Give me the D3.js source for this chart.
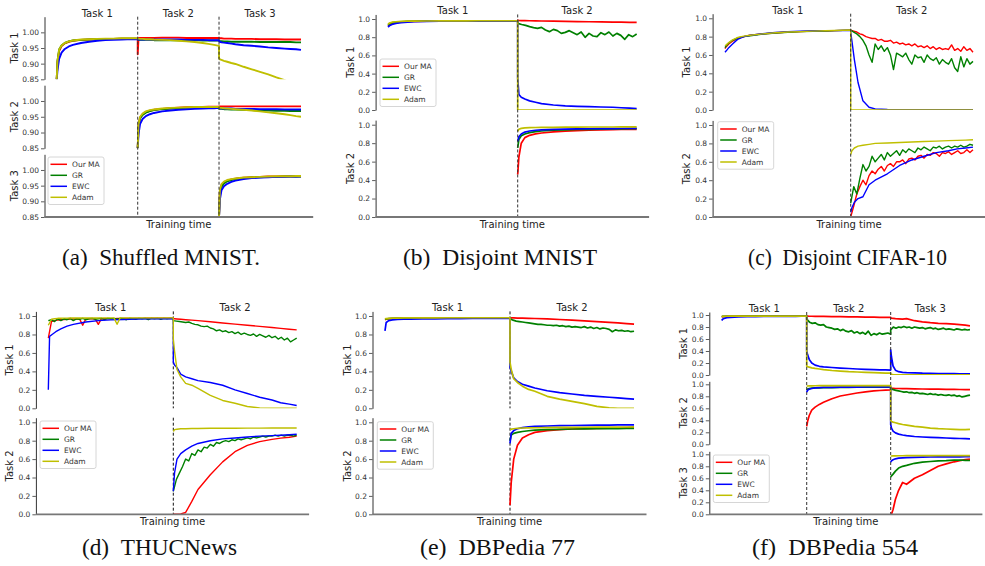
<!DOCTYPE html>
<html lang="en">
<head>
<meta charset="UTF-8">
<title>Accuracy over training time</title>
<script src="https://cdn.jsdelivr.net/npm/d3@7/dist/d3.min.js"></script>
<style>
  body { margin: 0; background: #fff; }
  svg { display: block; }
  .tick text { font-family: "DejaVu Sans", sans-serif; font-size: 7.5px; fill: #333; }
  .lab { font-family: "DejaVu Sans", sans-serif; fill: #222; }
</style>
</head>
<body>
<script>
// sample positions inside a task (fraction of the task), used by 16-value segments
var fracs = [0, .01, .03, .06, .1, .15, .2, .3, .4, .5, .6, .7, .8, .87, .94, 1];

var methods = ["Our MA", "GR", "EWC", "Adam"];
var methodColors = ["#ff0000", "#008000", "#0000ff", "#bfbf00"];
var taskNames = ["Task 1", "Task 2", "Task 3"];
var ticksShuffled = [0.85, 0.90, 0.95, 1.00];
var ticksUnit = [0, 0.2, 0.4, 0.6, 0.8, 1.0];

// ---- (a) Shuffled MNIST: accuracy on task r, one array per task segment
var a1MA = [
  [.85,.905,.94,.956, .965,.97,.973,.976, .977,.978,.979,.979, .98,.98,.98,.98],
  [.93,.982,.982,.982, .982,.982,.982,.983, .983,.983,.982,.982, .982,.982,.982,.982],
  [.982,.981,.981,.98, .98,.98,.979,.979, .979,.978,.978,.978, .977,.977,.977,.977]];
var a1GR = [
  [.85,.91,.945,.958, .966,.971,.974,.976, .977,.978,.979,.979, .98,.98,.98,.98],
  [.977,.976,.976,.976, .976,.976,.975,.975, .975,.975,.975,.975, .974,.974,.974,.974],
  [.973,.972,.972,.971, .971,.97,.97,.97, .97,.969,.969,.969, .969,.969,.968,.968]];
var a1EWC = [
  [.85,.88,.915,.935, .947,.955,.96,.966, .97,.973,.975,.976, .977,.978,.978,.978],
  [.977,.977,.977,.977, .977,.977,.977,.977, .977,.977,.976,.976, .976,.975,.975,.975],
  [.972,.97,.968,.967, .966,.964,.962,.959, .957,.955,.952,.95, .948,.947,.946,.944]];
var a1Adam = [
  [.85,.91,.945,.958, .966,.971,.974,.977, .978,.979,.98,.98, .981,.981,.981,.981],
  [.98,.98,.979,.979, .978,.978,.977,.976, .975,.973,.971,.969, .966,.963,.96,.957],
  [.918,.914,.912,.909, .906,.902,.899,.89, .882,.874,.866,.856, .847,.84,.834,.828]];
var a2MA = [
  [.85,.925,.948,.958, .965,.969,.972,.975, .977,.979,.98,.981, .981,.982,.982,.982],
  [.983,.983,.983,.983, .983,.983,.983,.983, .983,.983,.983,.983, .983,.983,.983,.983]];
var a2GR = [
  [.85,.92,.945,.956, .963,.968,.971,.974, .976,.977,.978,.979, .979,.98,.98,.98],
  [.976,.975,.975,.974, .974,.973,.973,.972, .971,.97,.97,.969, .969,.968,.968,.968]];
var a2EWC = [
  [.85,.895,.928,.943, .952,.958,.962,.967, .97,.972,.974,.975, .976,.977,.977,.978],
  [.977,.977,.977,.976, .976,.976,.975,.975, .975,.974,.974,.974, .973,.973,.973,.973]];
var a2Adam = [
  [.85,.925,.95,.96, .967,.971,.973,.976, .978,.979,.98,.981, .981,.981,.981,.981],
  [.979,.978,.978,.977, .976,.975,.974,.972, .97,.967,.964,.961, .958,.955,.952,.95]];
var a3MA = [[.85,.93,.952,.961, .966,.97,.972,.975, .977,.978,.979,.979, .98,.98,.98,.98]];
var a3GR = [[.85,.92,.946,.957, .964,.968,.971,.974, .976,.977,.978,.978, .979,.979,.979,.979]];
var a3EWC = [[.85,.905,.935,.948, .956,.962,.966,.971, .974,.976,.977,.978, .978,.979,.979,.98]];
var a3Adam = [[.85,.935,.955,.963, .968,.971,.973,.976, .977,.978,.979,.98, .98,.98,.981,.981]];

// ---- (b) Disjoint MNIST
var b1MA = [
  [.92,.935,.95,.96, .967,.971,.974,.977, .978,.979,.98,.98, .98,.98,.98,.98],
  [.985,.984,.983,.982, .981,.98,.978,.976, .974,.972,.97,.968, .966,.965,.964,.963]];
var b1GR = [
  [.93,.945,.958,.965, .97,.973,.975,.977, .978,.979,.98,.98, .98,.98,.98,.98],
  [.952,.94,.93,.916,.905, .897,.908,.879,.861,.886, .872,.842,.853,.872,.85,
   .828,.857,.799,.842,.813, .806,.85,.828,.857,.813, .842,.82,.777,.828,.806, .835]];
var b1EWC = [
  [.91,.925,.94,.952, .96,.966,.97,.974, .976,.978,.979,.979, .98,.98,.98,.98],
  [.35,.17,.14,.12, .1,.085,.07,.055, .045,.04,.037,.033, .03,.025,.02,.015]];
var b1Adam = [
  [.94,.955,.965,.97, .974,.976,.977,.978, .979,.98,.98,.981, .981,.981,.981,.981],
  [0,0,0,0, 0,0,0,0, 0,0,0,0, 0,0,0,0]];
var b2MA = [[.46,.65,.8,.86, .885,.9,.91,.922, .93,.935,.94,.943, .946,.948,.95,.95]];
var b2GR = [[.75,.84,.88,.9, .915,.925,.932,.94, .945,.948,.95,.952, .954,.955,.956,.957]];
var b2EWC = [[.82,.87,.9,.92, .932,.94,.945,.95, .953,.955,.956,.957, .958,.959,.96,.96]];
var b2Adam = [[.93,.95,.96,.965, .968,.97,.971,.972, .973,.974,.975,.975, .975,.976,.976,.976]];

// ---- (c) Disjoint CIFAR-10
var c1MA = [
  [.67,.69,.72,.75, .78,.8,.815,.83, .84,.85,.855,.86, .862,.865,.868,.87],
  [.87,.86,.85,.83,.82, .8,.79,.78,.78,.76, .77,.75,.75,.76,.73, .74,.72,.73,.71,.72,
   .7,.72,.69,.7,.68, .7,.67,.69,.66,.68, .66,.67,.66,.71,.65, .67,.64,.69,.65,.67, .63]];
var c1GR = [
  [.68,.7,.73,.76, .785,.8,.81,.828, .84,.848,.855,.858, .862,.866,.868,.87],
  [.87,.85,.83,.8,.76, .7,.6,.52,.72,.66, .7,.64,.68,.6,.44, .62,.6,.58,.62,.55,
   .5,.6,.57,.58,.52, .6,.56,.54,.57,.5, .55,.52,.5,.56,.46, .42,.58,.47,.56,.5, .53]];
var c1EWC = [
  [.63,.645,.68,.72, .77,.8,.815,.832, .845,.855,.86,.862, .865,.866,.867,.868],
  [.85,.75,.55,.3, .1,.03,.012,.005, .003,.002,.002,.002, .002,.002,.002,.002]];
var c1Adam = [
  [.7,.71,.735,.765, .79,.805,.815,.83, .842,.85,.855,.86, .864,.867,.87,.872],
  [0,0,0,0, 0,0,0,0, 0,0,0,0, 0,0,0,0]];
var c2MA = [[0,.12,.25,.33,.4, .35,.45,.5,.47,.52, .55,.5,.56,.58,.55, .6,.6,.62,.58,.63,
   .64,.62,.66,.67,.64, .68,.67,.7,.69,.66, .7,.69,.71,.68,.7, .72,.69,.7,.73,.7, .73]];
var c2GR = [[.15,.33,.25,.42,.57, .5,.55,.66,.6,.64, .68,.62,.7,.66,.69, .72,.67,.73,.7,.74,
   .72,.7,.75,.73,.76, .74,.72,.76,.75,.77, .74,.76,.77,.75,.77, .76,.78,.76,.77,.79, .78]];
var c2EWC = [[.05,.1,.16,.2, .22,.35,.4,.47, .56,.62,.66,.7, .72,.74,.75,.76]];
var c2Adam = [[.68,.72,.75,.77, .78,.79,.8,.805, .81,.815,.82,.825, .83,.833,.836,.84]];

// ---- (d) THUCNews
var d1MA = [
  [.76,.94,.95,.955,.96, .962,.965,.966,.968,.968, .969,.9,.969,.97,.97, .97,.91,.971,.971,.972,
   .972,.972,.973,.973,.973, .973,.974,.974,.974,.974, .974,.975,.975,.975,.975, .975,.975,.975,.976,.976, .976],
  [.97,.97,.968,.965, .96,.955,.95,.938, .925,.912,.9,.888, .875,.866,.857,.85]];
var d1GR = [
  [.95,.96,.94,.97,.95, .97,.96,.975,.95,.97, .965,.975,.96,.97,.975, .965,.97,.975,.96,.975,
   .97,.975,.965,.975,.97, .96,.975,.97,.965,.975, .97,.975,.96,.975,.97, .975,.965,.975,.97,.975, .97],
  [.95,.945,.94,.935,.93, .935,.92,.91,.905,.89, .885,.89,.87,.86,.84, .85,.83,.84,.82,.83,
   .81,.825,.8,.815,.8, .79,.805,.78,.8,.785, .77,.79,.765,.78,.75, .77,.74,.76,.72,.74, .76]];
var d1EWC = [
  [.2,.78,.8,.83, .86,.89,.91,.935, .95,.958,.963,.967, .969,.97,.971,.972],
  [.5,.47,.44,.37, .34,.32,.3,.28, .25,.2,.16,.12, .09,.06,.045,.03]];
var d1Adam = [
  [.9,.965,.97,.975,.976, .977,.977,.978,.978,.978, .978,.979,.979,.979,.979, .979,.979,.98,.98,.98,
   .98,.98,.91,.98,.98, .98,.98,.98,.98,.98, .98,.98,.98,.98,.98, .98,.98,.98,.98,.98, .98],
  [.75,.62,.42,.34, .27,.25,.215,.14, .085,.055,.02,.003, 0,0,0,0]];
var d2MA = [[0,0,0,.005, .02,.14,.27,.43, .57,.68,.75,.79, .815,.828,.838,.85]];
var d2GR = [[.25,.38,.45,.52,.6, .58,.66,.64,.7,.68, .73,.72,.76,.74,.78, .77,.79,.8,.79,.81,
   .8,.82,.81,.82,.83, .82,.84,.83,.84,.85, .84,.85,.85,.86,.85, .86,.85,.86,.86,.85, .86]];
var d2EWC = [[.25,.45,.6,.66, .7,.74,.77,.8, .82,.83,.84,.85, .855,.86,.865,.87]];
var d2Adam = [[.9,.92,.925,.93, .93,.932,.933,.935, .935,.936,.937,.937, .938,.938,.938,.938]];

// ---- (e) DBPedia 77
var e1MA = [
  [.96,.965,.97,.973, .975,.976,.977,.978, .978,.979,.979,.979, .98,.98,.98,.98],
  [.98,.98,.979,.978, .977,.975,.973,.968, .962,.955,.948,.94, .932,.925,.918,.912]];
var e1GR = [
  [.965,.968,.972,.974, .976,.977,.977,.978, .978,.979,.979,.979, .98,.98,.98,.98],
  [.97,.955,.945,.94,.935, .93,.925,.92,.915,.91, .91,.905,.9,.9,.895, .9,.89,.895,.885,.89,
   .88,.885,.88,.875,.885, .87,.88,.865,.875,.86, .87,.865,.855,.83,.85, .84,.845,.835,.84,.83, .835]];
var e1EWC = [
  [.84,.93,.95,.958, .962,.965,.967,.969, .97,.971,.972,.973, .974,.975,.975,.976],
  [.45,.4,.33,.29, .26,.24,.22,.19, .17,.155,.14,.13, .12,.112,.105,.1]];
var e1Adam = [
  [.97,.972,.975,.977, .978,.979,.98,.98, .98,.981,.981,.981, .981,.981,.981,.981],
  [.5,.42,.32,.28, .24,.205,.185,.13, .1,.075,.05,.02, .005,0,0,0]];
var e2MA = [[.1,.35,.6,.75, .83,.865,.89,.91, .92,.927,.932,.935, .937,.938,.939,.94]];
var e2GR = [[.8,.86,.88,.89, .9,.908,.914,.92, .924,.927,.929,.93, .931,.932,.933,.934]];
var e2EWC = [[.77,.88,.91,.93, .942,.95,.955,.96, .963,.965,.967,.969, .97,.971,.972,.973]];
var e2Adam = [[.92,.925,.93,.935, .938,.94,.941,.943, .944,.945,.946,.947, .948,.948,.949,.95]];

// ---- (f) DBPedia 554
var f1MA = [
  [.97,.972,.975,.977, .978,.979,.98,.98, .98,.98,.98,.98, .98,.98,.98,.98],
  [.98,.98,.979,.979, .978,.977,.976,.974, .972,.97,.968,.966, .964,.962,.961,.96],
  [.95,.948,.945,.94, .935,.93,.94,.905, .885,.872,.862,.855, .848,.84,.83,.82]];
var f1GR = [
  [.975,.976,.977,.978, .978,.979,.979,.98, .98,.98,.98,.98, .98,.98,.98,.98],
  [.93,.88,.86,.87,.84, .83,.84,.8,.79,.78, .76,.77,.74,.76,.73, .72,.74,.7,.72,.69,
   .71,.68,.73,.66,.69, .67,.7,.68,.69,.7, .68],
  [.75,.8,.78,.8,.79, .81,.79,.8,.78,.8, .79,.78,.79,.77,.78, .79,.77,.78,.76,.77,
   .78,.76,.77,.76,.75, .77,.76,.75,.76,.75, .755]];
var f1EWC = [
  [.91,.93,.945,.955, .96,.965,.968,.972, .974,.975,.976,.977, .978,.978,.979,.979],
  [.4,.34,.26,.2, .165,.145,.135,.125, .115,.108,.1,.095, .09,.087,.085,.082],
  [.42,.3,.15,.08, .055,.045,.04,.035, .03,.028,.025,.023, .022,.021,.02,.02]];
var f1Adam = [
  [.975,.977,.978,.979, .98,.98,.98,.98, .981,.981,.981,.981, .981,.981,.981,.981],
  [.15,.14,.13,.12, .11,.1,.09,.075, .065,.055,.05,.045, .04,.035,.03,.03],
  [.02,.01,.005,.003, .002,.002,.002,.002, .002,.002,.002,.002, .002,.002,.002,.002]];
var f2MA = [
  [.3,.38,.48,.57, .62,.665,.7,.76, .805,.83,.855,.875, .89,.897,.902,.905],
  [.935,.933,.932,.93, .93,.928,.927,.925, .922,.92,.918,.916, .914,.913,.912,.91]];
var f2GR = [
  [.9,.92,.93,.935, .94,.942,.944,.946, .948,.95,.951,.952, .952,.953,.953,.953],
  [.93,.91,.9,.89,.88, .87,.875,.86,.865,.85, .86,.845,.85,.84,.83, .845,.83,.835,.82,.83,
   .82,.815,.825,.81,.82, .8,.81,.79,.8,.81, .82]];
var f2EWC = [
  [.87,.9,.92,.93, .94,.945,.948,.95, .952,.953,.954,.955, .955,.955,.955,.955],
  [.33,.27,.22,.19, .17,.155,.145,.13, .122,.115,.11,.105, .1,.097,.094,.09]];
var f2Adam = [
  [.97,.972,.974,.975, .976,.977,.977,.978, .978,.978,.978,.978, .978,.978,.978,.978],
  [.4,.38,.37,.36, .345,.33,.32,.3, .285,.27,.26,.255, .25,.245,.245,.25]];
var f3MA = [[0,0,.08,.25, .4,.53,.5,.6, .66,.73,.8,.84, .875,.895,.91,.92]];
var f3GR = [[.62,.64,.67,.72, .77,.8,.815,.85, .87,.88,.89,.895, .903,.905,.9,.897]];
var f3EWC = [[.87,.89,.91,.925, .935,.942,.946,.95, .953,.955,.956,.957, .958,.958,.959,.96]];
var f3Adam = [[.97,.972,.974,.975, .976,.976,.977,.977, .977,.978,.978,.978, .978,.978,.978,.978]];

// panel layout (pixels) and which arrays go where
var panels = [
  { caption: "(a)\u2002Shuffled MNIST.", cap: [62, 260, 265], edges: [0, 1, 2.004, 3.016],
    left: 44.5, right: 313.2, rows: [[16.7, 79.3], [85.2, 148.3], [154.3, 217]],
    yDomain: [0.85, 1.05], ticks: ticksShuffled, fmt: ".2f", labOff: 30, lw: 1.9, span: true,
    data: [[a1MA, a1GR, a1EWC, a1Adam], [a2MA, a2GR, a2EWC, a2Adam], [a3MA, a3GR, a3EWC, a3Adam]],
    legendRow: 2, legend: [48, 157] },
  { caption: "(b)\u2002Disjoint MNIST", cap: [403, 597, 265], edges: [0, 1, 1.9175],
    left: 375.6, right: 649.1, rows: [[14.45, 110], [120.1, 217]],
    yDomain: [0, 1.05], ticks: ticksUnit, fmt: ".1f", labOff: 25, lw: 1.7, span: true,
    data: [[b1MA, b1GR, b1EWC, b1Adam], [b2MA, b2GR, b2EWC, b2Adam]],
    legendRow: 0, legend: [380, 59] },
  { caption: "(c)\u2002Disjoint CIFAR-10", cap: [748, 947, 265], edges: [0, 1, 1.973],
    left: 712.6, right: 985.4, rows: [[13.7, 110], [120.4, 217]],
    yDomain: [0, 1.05], ticks: ticksUnit, fmt: ".1f", labOff: 26.5, lw: 1.4, span: true,
    data: [[c1MA, c1GR, c1EWC, c1Adam], [c2MA, c2GR, c2EWC, c2Adam]],
    legendRow: 1, legend: [717.7, 121.7] },
  { caption: "(d)\u2002THUCNews", cap: [82, 237, 555], edges: [0, 1, 1.987],
    left: 35.9, right: 309.1, rows: [[311.4, 408.3], [417.7, 514.3]],
    yDomain: [0, 1.05], ticks: ticksUnit, fmt: ".1f", labOff: 26.5, lw: 1.4, span: false,
    data: [[d1MA, d1GR, d1EWC, d1Adam], [d2MA, d2GR, d2EWC, d2Adam]],
    legendRow: 1, legend: [40, 421] },
  { caption: "(e)\u2002DBPedia 77", cap: [420, 575, 555], edges: [0, 1, 1.992],
    left: 372.5, right: 646.5, rows: [[311.4, 408.3], [417.7, 514.3]],
    yDomain: [0, 1.05], ticks: ticksUnit, fmt: ".1f", labOff: 25, lw: 1.7, span: false,
    data: [[e1MA, e1GR, e1EWC, e1Adam], [e2MA, e2GR, e2EWC, e2Adam]],
    legendRow: 1, legend: [377.3, 421.7] },
  { caption: "(f)\u2002DBPedia 554", cap: [752, 918, 555], edges: [0, 1, 1.988, 2.921],
    left: 709.3, right: 982.4, rows: [[312, 375], [381.3, 444.3], [451.3, 514.3]],
    yDomain: [0, 1.05], ticks: ticksUnit, fmt: ".1f", labOff: 26, lw: 1.7, span: true,
    data: [[f1MA, f1GR, f1EWC, f1Adam], [f2MA, f2GR, f2EWC, f2Adam], [f3MA, f3GR, f3EWC, f3Adam]],
    legendRow: 2, legend: [713.3, 455] }
];

var svg = d3.select("body").append("svg").attr("width", 985).attr("height", 566);
var defs = svg.append("defs");

panels.forEach(function(p, pi) {
  var g = svg.append("g");
  var last = p.edges[p.edges.length - 1];
  var pad = 0.05 * (last - p.edges[0]);
  var x = d3.scaleLinear().domain([p.edges[0] - pad, last + pad]).range([p.left, p.right]);
  var top = p.rows[0][0], bottom = p.rows[p.rows.length - 1][1];

  // task titles above the first row
  for (var t = 0; t < p.edges.length - 1; t++) {
    g.append("text").attr("class", "lab")
      .attr("x", x((p.edges[t] + p.edges[t + 1]) / 2)).attr("y", top)
      .attr("text-anchor", "middle").style("font-size", "10px")
      .text(taskNames[t]);
  }

  p.rows.forEach(function(rb, r) {
    var y = d3.scaleLinear().domain(p.yDomain).range([rb[1], rb[0]]);
    var clipId = "clip" + pi + "_" + r;
    defs.append("clipPath").attr("id", clipId).append("rect")
      .attr("x", p.left).attr("y", rb[0])
      .attr("width", p.right - p.left).attr("height", rb[1] - rb[0]);

    var ax = g.append("g").attr("transform", "translate(" + p.left + ",0)")
      .call(d3.axisLeft(y).tickValues(p.ticks).tickFormat(d3.format(p.fmt))
        .tickSize(3.5).tickPadding(2).tickSizeOuter(0));
    ax.attr("font-family", null).attr("font-size", null);
    ax.select(".domain").attr("stroke", "#333").attr("stroke-width", 1);
    ax.selectAll(".tick line").attr("stroke", "#333").attr("stroke-width", 0.8);

    // y label
    g.append("text").attr("class", "lab")
      .attr("transform", "translate(" + (p.left - p.labOff) + "," + ((rb[0] + rb[1]) / 2) + ") rotate(-90)")
      .attr("text-anchor", "middle").attr("dominant-baseline", "central")
      .style("font-size", "10px").text(taskNames[r]);

    // task boundaries, per row when rows are not joined
    if (!p.span) {
      for (var k = 1; k < p.edges.length - 1; k++) {
        g.append("line").attr("x1", x(p.edges[k])).attr("x2", x(p.edges[k]))
          .attr("y1", rb[0]).attr("y2", rb[1])
          .attr("stroke", "#111").attr("stroke-width", 1).attr("stroke-dasharray", "3,2");
      }
    }

    var line = d3.line().x(function(d) { return x(d.t); }).y(function(d) { return y(d.v); });
    p.data[r].forEach(function(segs, m) {
      var pts = [];
      segs.forEach(function(vals, s) {
        var t0 = p.edges[r + s], t1 = p.edges[r + s + 1];
        var fr = vals.length === fracs.length ? fracs
          : vals.map(function(_, i) { return i / (vals.length - 1); });
        vals.forEach(function(v, i) { pts.push({ t: t0 + fr[i] * (t1 - t0), v: v }); });
      });
      g.append("path").attr("clip-path", "url(#" + clipId + ")")
        .attr("d", line(pts)).attr("fill", "none")
        .attr("stroke", methodColors[m]).attr("stroke-width", p.lw)
        .attr("stroke-linejoin", "round");
    });

    // legend
    if (r === p.legendRow) {
      var lx = p.legend[0], ly = p.legend[1];
      var lg = g.append("g");
      lg.append("rect").attr("x", lx).attr("y", ly).attr("width", 56).attr("height", 47.5)
        .attr("rx", 2).attr("fill", "#fff").attr("fill-opacity", 0.85)
        .attr("stroke", "#ccc").attr("stroke-width", 0.8);
      methods.forEach(function(name, i) {
        var yy = ly + 7.3 + i * 11;
        lg.append("line").attr("x1", lx + 2.5).attr("x2", lx + 19).attr("y1", yy).attr("y2", yy)
          .attr("stroke", methodColors[i]).attr("stroke-width", 1.5);
        lg.append("text").attr("class", "lab").attr("x", lx + 24).attr("y", yy)
          .attr("dominant-baseline", "central").style("font-size", "7.5px").style("fill", "#333")
          .text(name);
      });
    }
  });

  if (p.span) {
    for (var k = 1; k < p.edges.length - 1; k++) {
      g.append("line").attr("x1", x(p.edges[k])).attr("x2", x(p.edges[k]))
        .attr("y1", top).attr("y2", bottom)
        .attr("stroke", "#333").attr("stroke-width", 1).attr("stroke-dasharray", "3,2");
    }
  }

  // bottom spine and x label
  g.append("line").attr("x1", p.left).attr("x2", p.right).attr("y1", bottom).attr("y2", bottom)
    .attr("stroke", "#777").attr("stroke-width", 1.8);
  g.append("text").attr("class", "lab")
    .attr("x", (p.left + p.right) / 2).attr("y", bottom + 7.5)
    .attr("text-anchor", "middle").attr("dominant-baseline", "central")
    .style("font-size", "10px").text("Training time");

  // caption (Times-like, horizontally fitted)
  svg.append("text")
    .attr("x", p.cap[0]).attr("y", p.cap[2])
    .style("font-family", "'Liberation Serif', 'Times New Roman', serif")
    .style("font-size", "24px").style("fill", "#111")
    .attr("textLength", p.cap[1] - p.cap[0]).attr("lengthAdjust", "spacingAndGlyphs")
    .text(p.caption);
});
</script>
</body>
</html>
